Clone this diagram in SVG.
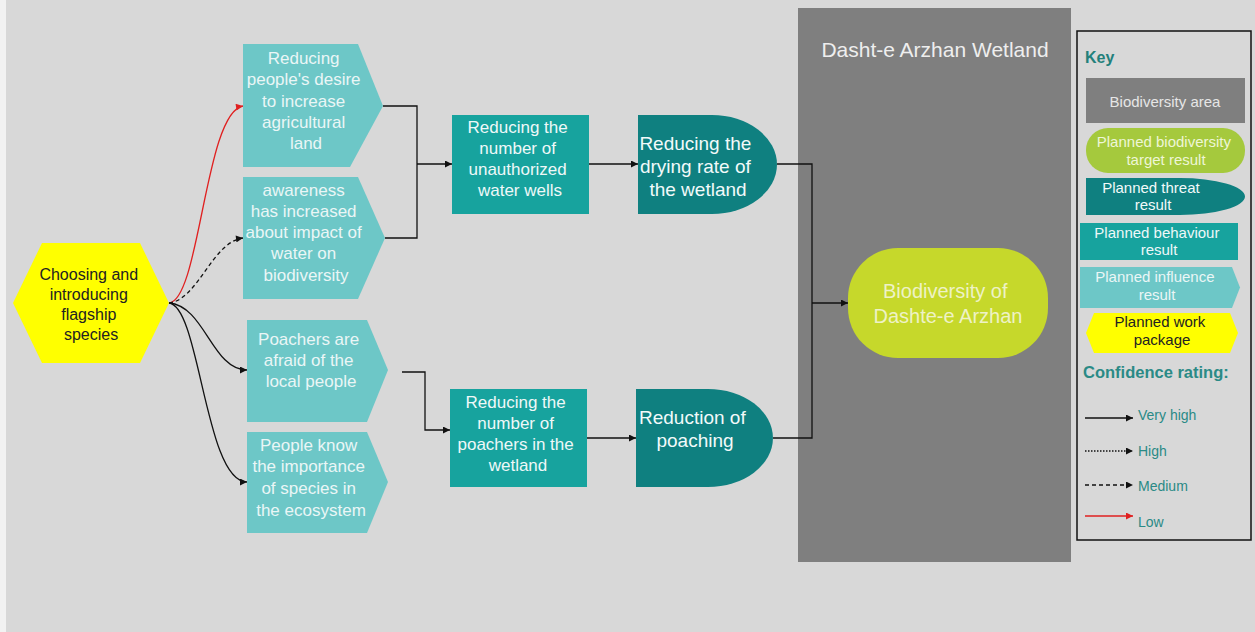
<svg xmlns="http://www.w3.org/2000/svg" width="1255" height="632" viewBox="0 0 1255 632">
<defs>
<style>
text{font-family:"Liberation Sans",Arial,sans-serif;text-anchor:middle}
.inf{fill:#6dc7c7}
.beh{fill:#17a39e}
.thr{fill:#0f8080}
.lt{fill:#eaf6f6;font-size:17px}
.bt{fill:#eef8f8;font-size:17px}
.tt{fill:#f2fafa;font-size:19px}
.ln{fill:none;stroke:#111;stroke-width:1.3}
.kt{font-size:15px}
.lg{fill:#2a8a86;font-size:14px;text-anchor:start}
</style>
<marker id="ah" viewBox="0 0 10 10" refX="10" refY="5" markerWidth="8" markerHeight="7" markerUnits="userSpaceOnUse" orient="auto">
<path d="M0,0 L10,5 L0,10 Z" fill="#111"/>
</marker>
<marker id="ahr" viewBox="0 0 10 10" refX="10" refY="5" markerWidth="8" markerHeight="7" markerUnits="userSpaceOnUse" orient="auto">
<path d="M0,0 L10,5 L0,10 Z" fill="#e02020"/>
</marker>
</defs>
<rect x="0" y="0" width="1255" height="632" fill="#d8d8d8"/>
<rect x="0" y="0" width="6" height="632" fill="#f2f2f2"/>

<g id="wetland-area">
<rect x="798" y="8" width="273" height="554" fill="#7f7f7f"/>
<text x="935" y="57" style="font-size:21px;fill:#eeeeee">Dasht-e Arzhan Wetland</text>
</g>

<g id="work-package">
<polygon points="13,303 42,243 140,243 169,303 140,363 42,363" fill="#ffff00"/>
<text style="font-size:16px;fill:#222">
<tspan x="91" y="280">Choosing and</tspan>
<tspan x="91" y="300">introducing</tspan>
<tspan x="91" y="320">flagship</tspan>
<tspan x="91" y="340">species</tspan>
</text>
</g>

<g id="influence-1">
<polygon class="inf" points="243,44 358,44 383,106 350,167 243,167"/>
<text class="lt">
<tspan x="306" y="64">Reducing</tspan>
<tspan x="306" y="85">people's desire</tspan>
<tspan x="306" y="107">to increase</tspan>
<tspan x="306" y="128">agricultural</tspan>
<tspan x="306" y="149">land</tspan>
</text>
</g>

<g id="influence-2">
<polygon class="inf" points="243,177 358,177 385,238 358,299 243,299"/>
<text class="lt">
<tspan x="306" y="196">awareness</tspan>
<tspan x="306" y="217">has increased</tspan>
<tspan x="306" y="238">about impact of</tspan>
<tspan x="306" y="259">water on</tspan>
<tspan x="306" y="281">biodiversity</tspan>
</text>
</g>

<g id="influence-3">
<polygon class="inf" points="247,320 367,320 388,370 367,422 247,422"/>
<text class="lt">
<tspan x="311" y="345">Poachers are</tspan>
<tspan x="311" y="366">afraid of the</tspan>
<tspan x="311" y="387">local people</tspan>
</text>
</g>

<g id="influence-4">
<polygon class="inf" points="247,432 367,432 388,482 367,533 247,533"/>
<text class="lt">
<tspan x="311" y="451">People know</tspan>
<tspan x="311" y="472">the importance</tspan>
<tspan x="311" y="494">of species in</tspan>
<tspan x="311" y="516">the ecosystem</tspan>
</text>
</g>

<g id="behaviour-1">
<rect class="beh" x="452" y="115" width="137" height="99"/>
<text class="bt">
<tspan x="520" y="133">Reducing the</tspan>
<tspan x="520" y="154">number of</tspan>
<tspan x="520" y="175">unauthorized</tspan>
<tspan x="520" y="196">water wells</tspan>
</text>
</g>

<g id="behaviour-2">
<rect class="beh" x="450" y="389" width="137" height="98"/>
<text class="bt">
<tspan x="518" y="408">Reducing the</tspan>
<tspan x="518" y="429">number of</tspan>
<tspan x="518" y="450">poachers in the</tspan>
<tspan x="518" y="471">wetland</tspan>
</text>
</g>

<g id="threat-1">
<path class="thr" d="M638,115 H712 A65,49.5 0 0 1 712,214 H638 Z"/>
<text class="tt">
<tspan x="698" y="150">Reducing the</tspan>
<tspan x="698" y="173">drying rate of</tspan>
<tspan x="698" y="196">the wetland</tspan>
</text>
</g>

<g id="threat-2">
<path class="thr" d="M636,389 H708 A65,49 0 0 1 708,487 H636 Z"/>
<text class="tt">
<tspan x="695" y="424">Reduction of</tspan>
<tspan x="695" y="447">poaching</tspan>
</text>
</g>

<g id="target">
<rect x="848" y="248" width="200" height="110" rx="50" ry="50" fill="#c6d82b"/>
<text style="font-size:20px;fill:#eef2c6">
<tspan x="948" y="298">Biodiversity of</tspan>
<tspan x="948" y="323">Dashte-e Arzhan</tspan>
</text>
</g>

<g id="connectors">
<path d="M169,303 C200,300 205,112 243,106" fill="none" stroke="#e02020" stroke-width="1.3" marker-end="url(#ahr)"/>
<path d="M169,303 C198,300 212,242 243,238" class="ln" stroke-dasharray="4,3" marker-end="url(#ah)"/>
<path d="M169,303 C205,306 212,370 247,370" class="ln" marker-end="url(#ah)"/>
<path d="M169,303 C200,306 205,482 247,482" class="ln" marker-end="url(#ah)"/>
<path d="M383,106 H417 V238 H385" class="ln"/>
<path d="M417,164 H452" class="ln" marker-end="url(#ah)"/>
<path d="M589,164 H638" class="ln" marker-end="url(#ah)"/>
<path d="M777,164 H812 V438 H773" class="ln"/>
<path d="M812,303 H848" class="ln" marker-end="url(#ah)"/>
<path d="M402,372 H425 V430 H450" class="ln" marker-end="url(#ah)"/>
<path d="M587,438 H636" class="ln" marker-end="url(#ah)"/>
</g>

<g id="key">
<rect x="1077" y="31" width="174" height="509" fill="#d8d8d8" stroke="#111" stroke-width="1.5"/>
<text x="1085" y="63" style="font-size:16px;font-weight:bold;fill:#23807b;text-anchor:start">Key</text>
<rect x="1086" y="78" width="159" height="45" fill="#7f7f7f"/>
<text x="1165" y="107" class="kt" style="fill:#e6e6e6">Biodiversity area</text>
<rect x="1086" y="128" width="159" height="45" rx="22" ry="22" fill="#a5c93d"/>
<text class="kt" style="fill:#eef6d6">
<tspan x="1166" y="147">Planned biodiversity</tspan>
<tspan x="1166" y="165">target result</tspan>
</text>
<path d="M1086,178 H1180 A65,18.5 0 0 1 1180,215 H1086 Z" fill="#0f8080"/>
<text class="kt" style="fill:#f2fafa">
<tspan x="1153" y="193">Planned threat</tspan>
<tspan x="1153" y="210">result</tspan>
</text>
<rect x="1080" y="223" width="158" height="37" fill="#17a39e"/>
<text class="kt" style="fill:#eef8f8">
<tspan x="1159" y="238">Planned behaviour</tspan>
<tspan x="1159" y="255">result</tspan>
</text>
<polygon points="1080,267 1232,267 1240,287.5 1232,308 1080,308" fill="#6dc7c7"/>
<text class="kt" style="fill:#eaf6f6">
<tspan x="1157" y="282">Planned influence</tspan>
<tspan x="1157" y="300">result</tspan>
</text>
<polygon points="1086,333 1094,313 1230,313 1238,333 1230,353 1094,353" fill="#ffff00"/>
<text class="kt" style="fill:#222">
<tspan x="1162" y="327">Planned work</tspan>
<tspan x="1162" y="345">package</tspan>
</text>
<text x="1083" y="378" style="font-size:16.5px;font-weight:bold;fill:#2a8a86;text-anchor:start">Confidence rating:</text>
<path d="M1085,418 H1133" class="ln" marker-end="url(#ah)"/>
<text x="1138" y="420" class="lg">Very high</text>
<path d="M1085,451 H1133" class="ln" stroke-dasharray="1.5,1.5" marker-end="url(#ah)"/>
<text x="1138" y="456" class="lg">High</text>
<path d="M1085,485 H1133" class="ln" stroke-dasharray="4,3" marker-end="url(#ah)"/>
<text x="1138" y="491" class="lg">Medium</text>
<path d="M1085,516 H1133" fill="none" stroke="#e02020" stroke-width="1.3" marker-end="url(#ahr)"/>
<text x="1138" y="527" class="lg">Low</text>
</g>
</svg>
